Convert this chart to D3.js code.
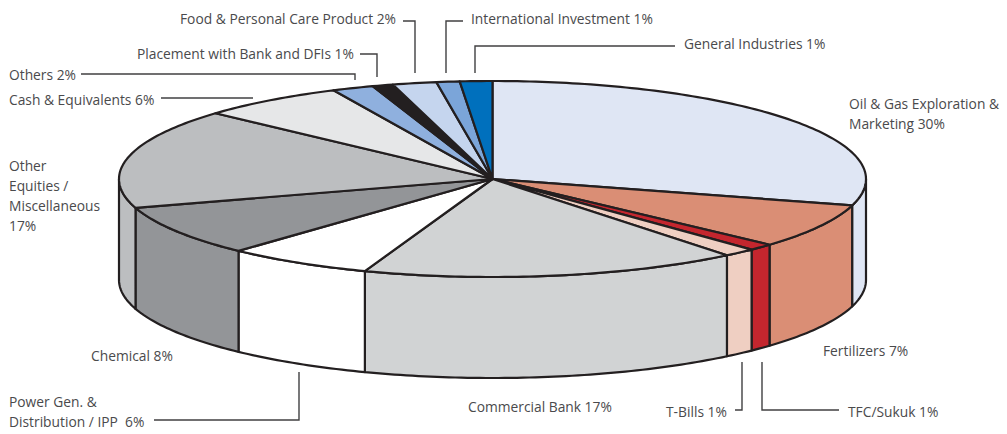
<!DOCTYPE html>
<html>
<head>
<meta charset="utf-8">
<script src="https://cdn.jsdelivr.net/npm/d3@7"></script>
<style>
	html, body { margin: 0; padding: 0; background: #fff; }
	svg { display: block; }
	text { font-family: "Open Sans", sans-serif; font-size: 13.8px; fill: #4a4a4c; }
</style>
</head>
<body>
<div id="chart"></div>
<script>
// slices clockwise from 12 o'clock, shares
const categories = ["Oil & Gas Exploration & Marketing", "Fertilizers", "TFC/Sukuk", "T-Bills", "Commercial Bank",
	"Power Gen. & Distribution / IPP", "Chemical", "Other Equities / Miscellaneous", "Cash & Equivalents", "Others",
	"Placement with Bank and DFIs", "Food & Personal Care Product", "International Investment", "General Industries"];
const shares = [29.35, 7.35, 1.1, 1.4, 16.35, 6.35, 8.35, 16.45, 6.3, 1.8, 0.9, 1.9, 1.0, 1.4];
const colors = ["#dfe6f4", "#da8e75", "#c4262e", "#efcfc2", "#d1d3d4", "#ffffff", "#939598", "#bcbec0", "#e6e7e8",
	"#8fb0de", "#231f20", "#c5d5ee", "#7ba5d9", "#0070bd"];
const labelTexts = [
	["Oil & Gas Exploration &", "Marketing 30%"], ["Fertilizers 7%"], ["TFC/Sukuk 1%"], ["T-Bills 1%"], ["Commercial Bank 17%"],
	["Power Gen. &", "Distribution / IPP  6%"], ["Chemical 8%"], ["Other", "Equities /", "Miscellaneous", "17%"],
	["Cash & Equivalents 6%"], ["Others 2%"], ["Placement with Bank and DFIs 1%"], ["Food & Personal Care Product 2%"],
	["International Investment 1%"], ["General Industries 1%"]
];

const width = 1007, height = 434;
const depth = 101;

const svg = d3.select("div#chart").append("svg")
	.attr("width", width)
	.attr("height", height);

const scaleX = d3.scaleLinear().domain([-1, 1]).range([119, 866]);
const scaleY = d3.scaleLinear().domain([-1, 1]).range([81, 277]);

const pie = d3.pie().sort(null).value((d) => d);
const slices = pie(shares).map((d, i) => ({ ...d, color: colors[i], name: categories[i] }));

// angle is clockwise from the top, like d3.pie gives it
const px = (a) => scaleX(Math.sin(a));
const py = (a) => scaleY(-Math.cos(a));
const line = d3.line();

const rimPoints = (a0, a1) => {
	const n = Math.max(2, Math.ceil((a1 - a0) * 60));
	return d3.range(n + 1).map((k) => a0 + (a1 - a0) * k / n);
};

const outline = { stroke: "#231f20", width: 2.2 };

// side walls, only the part of each slice that faces front
const front = [Math.PI / 2, Math.PI * 3 / 2];
const walls = slices.filter((d) => d.endAngle > front[0] && d.startAngle < front[1]);

svg.append("g").selectAll("path")
	.data(walls)
	.enter()
	.append("path")
	.attr("fill", (d) => d.color)
	.attr("stroke", outline.stroke)
	.attr("stroke-width", outline.width)
	.attr("stroke-linejoin", "round")
	.attr("d", (d) => {
		const angles = rimPoints(Math.max(d.startAngle, front[0]), Math.min(d.endAngle, front[1]));
		const upper = angles.map((a) => [px(a), py(a)]);
		const lower = angles.slice().reverse().map((a) => [px(a), py(a) + depth]);
		return line(upper.concat(lower)) + "Z";
	});

// top face
svg.append("g").selectAll("path")
	.data(slices)
	.enter()
	.append("path")
	.attr("fill", (d) => d.color)
	.attr("stroke", outline.stroke)
	.attr("stroke-width", outline.width)
	.attr("stroke-linejoin", "round")
	.attr("d", (d) => {
		const rim = rimPoints(d.startAngle, d.endAngle).map((a) => [px(a), py(a)]);
		return line([[scaleX(0), scaleY(0)]].concat(rim)) + "Z";
	});

// leader lines
const leaders = [
	[[403, 21], [415, 21], [415, 73]],
	[[463, 21], [446, 21], [446, 73]],
	[[675, 46], [475, 46], [475, 73]],
	[[360, 54], [377, 54], [377, 77]],
	[[81, 74], [355, 74], [355, 80]],
	[[161, 98], [253, 98]],
	[[735, 410], [742, 410], [742, 362]],
	[[762, 362], [762, 410], [839, 410]],
	[[299, 372], [299, 420], [154, 420]]
];

svg.append("g").selectAll("path")
	.data(leaders)
	.enter()
	.append("path")
	.attr("fill", "none")
	.attr("stroke", "#414042")
	.attr("stroke-width", 1.4)
	.attr("d", (d) => line(d));

// label anchors, same order as categories: left edge and first baseline
const labelPos = [
	[849, 109, 20], [823, 356, 0], [848, 417, 0], [666, 417, 0], [468, 412, 0], [9, 407, 20], [91, 361, 0],
	[9, 171, 20], [9, 105, 0], [9, 80, 0], [137, 59, 0], [180, 24, 0], [471, 24, 0], [684, 49, 0]
];

const labels = svg.append("g").selectAll("text")
	.data(labelTexts)
	.enter()
	.append("text")
	.attr("x", (d, i) => labelPos[i][0])
	.attr("y", (d, i) => labelPos[i][1]);

labels.selectAll("tspan")
	.data((d, i) => d.map((t) => ({ t, i })))
	.enter()
	.append("tspan")
	.attr("x", (d) => labelPos[d.i][0])
	.attr("dy", (d, k) => k === 0 ? 0 : labelPos[d.i][2])
	.style("white-space", "pre")
	.text((d) => d.t);
</script>
</body>
</html>
